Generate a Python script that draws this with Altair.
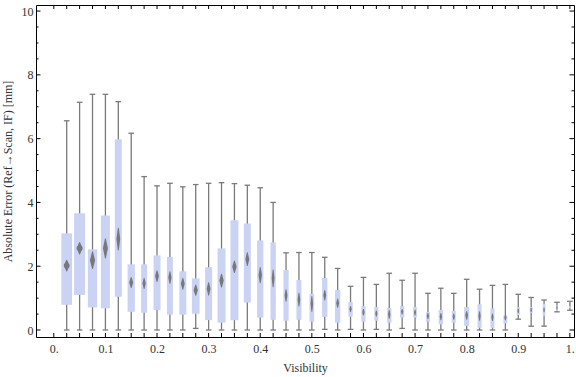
import altair as alt
import pandas as pd

# ---------------- data ----------------
visibility = [0.025, 0.05, 0.075, 0.1, 0.125, 0.15, 0.175, 0.2, 0.225, 0.25,
              0.275, 0.3, 0.325, 0.35, 0.375, 0.4, 0.425, 0.45, 0.475, 0.5,
              0.525, 0.55, 0.575, 0.6, 0.625, 0.65, 0.675, 0.7, 0.725, 0.75,
              0.775, 0.8, 0.825, 0.85, 0.875, 0.9, 0.925, 0.95, 0.975, 1.0]
whisker_high = [6.56, 7.14, 7.39, 7.39, 7.16, 6.17, 4.81, 4.52, 4.60, 4.49,
                4.56, 4.60, 4.62, 4.59, 4.54, 4.46, 4.00, 2.42, 2.43, 2.43,
                2.28, 1.93, 1.37, 1.65, 1.43, 1.78, 1.56, 1.78, 1.15, 1.31,
                1.15, 1.59, 1.28, 1.40, 1.43, 1.12, 1.02, 0.94, 0.87, 0.90]
quartile_high = [3.03, 3.66, 2.53, 3.59, 5.98, 2.06, 2.06, 2.34, 2.29, 1.84,
                 1.62, 1.97, 2.56, 3.44, 3.34, 2.81, 2.75, 1.88, 1.57, 1.13,
                 1.63, 1.25, 0.88, 0.75, 0.72, 0.69, 0.75, 0.72, 0.56, 0.63,
                 0.60, 0.72, 0.81, 0.68, 0.46, 0.72, 0.72, 0.82, 0.77, 0.89]
mean_value = [2.02, 2.56, 2.19, 2.56, 2.85, 1.49, 1.46, 1.69, 1.65, 1.45,
              1.25, 1.29, 1.55, 1.98, 2.22, 1.72, 1.62, 1.08, 0.95, 0.82,
              1.09, 0.84, 0.66, 0.56, 0.52, 0.49, 0.57, 0.55, 0.44, 0.42,
              0.42, 0.46, 0.44, 0.40, 0.39, 0.60, 0.63, 0.63, 0.70, 0.81]
quartile_low = [0.79, 1.10, 0.71, 0.68, 1.04, 0.57, 0.54, 0.63, 0.48, 0.48,
                0.51, 0.31, 0.23, 0.31, 0.86, 0.39, 0.32, 0.29, 0.32, 0.26,
                0.41, 0.23, 0.42, 0.26, 0.29, 0.23, 0.39, 0.39, 0.26, 0.18,
                0.23, 0.13, 0.07, 0.07, 0.21, 0.47, 0.54, 0.45, 0.60, 0.68]
whisker_low = [0.0, 0.0, 0.0, 0.0, 0.0, 0.0, 0.0, 0.0, 0.0, 0.0,
               0.05, 0.0, 0.0, 0.0, 0.0, 0.0, 0.0, 0.0, 0.0, 0.0,
               0.02, 0.0, 0.02, 0.0, 0.02, 0.0, 0.05, 0.0, 0.0, 0.0,
               0.0, 0.0, 0.0, 0.0, 0.0, 0.34, 0.12, 0.12, 0.57, 0.62]
# half height of the mean diamond (confidence interval of the mean)
mean_ci = [0.17, 0.18, 0.26, 0.30, 0.34, 0.16, 0.16, 0.17, 0.18, 0.17,
           0.16, 0.19, 0.20, 0.18, 0.20, 0.24, 0.26, 0.18, 0.20, 0.23,
           0.15, 0.13, 0.08, 0.09, 0.08, 0.12, 0.07, 0.08, 0.08, 0.10,
           0.08, 0.12, 0.13, 0.10, 0.07, 0.06, 0.05, 0.06, 0.04, 0.05]
# relative sample size (drives the box width)
sample_weight = [10.7, 11.0, 9.3, 9.0, 7.0, 7.3, 6.0, 7.0, 6.0, 7.0,
                 7.7, 7.0, 8.0, 8.0, 7.0, 6.3, 5.3, 5.3, 5.0, 4.7,
                 5.3, 5.3, 4.3, 4.3, 4.0, 4.3, 4.3, 3.7, 4.0, 4.3,
                 4.0, 5.0, 4.0, 4.0, 4.0, 3.0, 3.0, 2.7, 2.0, 1.7]

y_major_ticks = [0, 2, 4, 6, 8, 10]
y_minor_ticks = [0.5, 1, 1.5, 2.5, 3, 3.5, 4.5, 5, 5.5, 6.5, 7, 7.5, 8.5, 9, 9.5]
x_tick_values = [0.0] + visibility
x_label_values = [0.0, 0.1, 0.2, 0.3, 0.4, 0.5, 0.6, 0.7, 0.8, 0.9, 1.0]

# ---------------- tables ----------------
box = pd.DataFrame({
    "vis": visibility, "lo": whisker_low, "q1": quartile_low,
    "mean": mean_value, "q3": quartile_high, "hi": whisker_high,
    "w": sample_weight,
})

DIAMOND_FRAC = 0.55  # diamond width relative to box width
rows = []
for i, (v, m, c, w) in enumerate(zip(visibility, mean_value, mean_ci, sample_weight)):
    for k, (dy, f) in enumerate([(-1, 0.0), (0, 1.0), (1, 0.0)]):
        rows.append({"i": i, "k": k, "vis": v, "y": m + dy * c, "dw": f * DIAMOND_FRAC * w})
dia = pd.DataFrame(rows)

W, H = 538, 332
FONT = "Liberation Serif"
TXT = "#333333"
GRAY = "#7a7a7a"

xscale = alt.Scale(domain=[-0.0345, 1.008], nice=False, zero=False, padding=0)
yscale = alt.Scale(domain=[-0.219, 10.19], nice=False, zero=False, padding=0)
sscale = alt.Scale(domain=[0, 11], range=[0, 11])

x_axis = alt.Axis(values=x_label_values, title="Visibility", grid=False, ticks=False,
                  domain=False, labelFont=FONT, labelFontSize=12, labelColor=TXT,
                  labelPadding=6, titleFont=FONT, titleFontSize=12,
                  titleFontWeight="normal", titleColor=TXT, titlePadding=8,
                  labelExpr="datum.value == 0 ? '0.' : (datum.value == 1 ? '1.' : format(datum.value, '.1f'))")
y_axis = alt.Axis(values=y_major_ticks, title="Absolute Error (Ref\u2192Scan, IF) [mm]",
                  grid=False, ticks=False, domain=False, labelFont=FONT,
                  labelFontSize=12, labelColor=TXT, labelPadding=3,
                  titleFont=FONT, titleFontSize=12, titleFontWeight="normal",
                  titleColor=TXT, titlePadding=7)

X = lambda f: alt.X(f, scale=xscale, axis=x_axis)
Y = lambda f: alt.Y(f, scale=yscale, axis=y_axis)

whiskers = alt.Chart(box).mark_rule(color=GRAY, strokeWidth=1.3).encode(
    x=X("vis:Q"), y=Y("lo:Q"), y2="hi:Q")
cap_hi = alt.Chart(box).mark_rule(color=GRAY, strokeWidth=1.3, xOffset=-2.8, x2Offset=2.8).encode(
    x=X("vis:Q"), x2="vis:Q", y=Y("hi:Q"))
cap_lo = alt.Chart(box).mark_rule(color=GRAY, strokeWidth=1.3, xOffset=-2.8, x2Offset=2.8).encode(
    x=X("vis:Q"), x2="vis:Q", y=Y("lo:Q"))
boxes = alt.Chart(box).mark_bar(color="#cbd3f5").encode(
    x=X("vis:Q"), y=Y("q1:Q"), y2="q3:Q",
    size=alt.Size("w:Q", scale=sscale, legend=None))
diamonds = alt.Chart(dia).mark_trail(color="#6e6e6e", opacity=0.9).encode(
    x=X("vis:Q"), y=Y("y:Q"), size=alt.Size("dw:Q", scale=sscale, legend=None),
    detail="i:N", order="k:Q")

# inward frame ticks
ymaj = pd.DataFrame({"t": y_major_ticks})
ymin = pd.DataFrame({"t": y_minor_ticks})
xt = pd.DataFrame({"t": x_tick_values})
tk = dict(color="black", strokeWidth=1)
left_maj = alt.Chart(ymaj).mark_rule(**tk).encode(y=Y("t:Q"), x=alt.value(0), x2=alt.value(4.5))
left_min = alt.Chart(ymin).mark_rule(**tk).encode(y=Y("t:Q"), x=alt.value(0), x2=alt.value(2.5))
right_maj = alt.Chart(ymaj).mark_rule(**tk).encode(y=Y("t:Q"), x=alt.value(W - 4.5), x2=alt.value(W))
right_min = alt.Chart(ymin).mark_rule(**tk).encode(y=Y("t:Q"), x=alt.value(W - 2.5), x2=alt.value(W))
bottom_t = alt.Chart(xt).mark_rule(**tk).encode(x=X("t:Q"), y=alt.value(H - 4), y2=alt.value(H))
top_t = alt.Chart(xt).mark_rule(**tk).encode(x=X("t:Q"), y=alt.value(0), y2=alt.value(4))

chart = alt.layer(
    whiskers, cap_hi, cap_lo, boxes, diamonds,
    left_maj, left_min, right_maj, right_min, bottom_t, top_t,
).properties(
    width=W, height=H, autosize="none",
    padding={"left": 36, "top": 5, "right": 2, "bottom": 40},
    background="white",
).configure_view(stroke="black", strokeWidth=1)

chart.save("out.html", embed_options={"renderer": "svg", "actions": False})
